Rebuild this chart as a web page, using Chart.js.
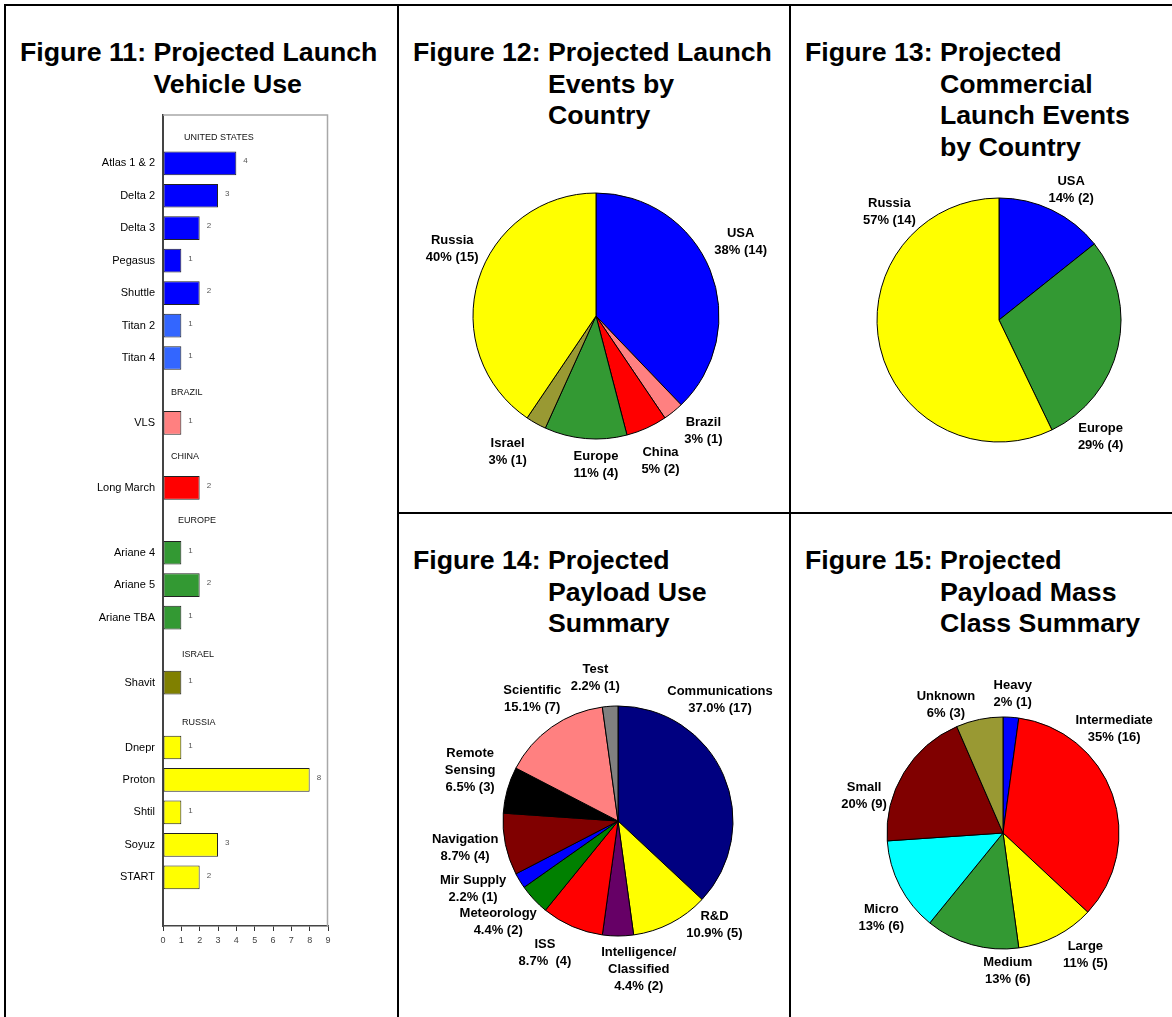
<!DOCTYPE html>
<html>
<head>
<meta charset="utf-8">
<script src="https://cdn.jsdelivr.net/npm/chart.js@4.4.0/dist/chart.umd.min.js"></script>
<style>
  body { margin: 0; background: #fff; font-family: "Liberation Sans", Arial, sans-serif; }
  #page { position: relative; width: 1172px; height: 1017px; overflow: hidden; background: #fff; }
  .line { position: absolute; background: #000; }
  .title { position: absolute; display: flex; font-weight: bold; font-size: 26.7px; line-height: 31.5px; color: #000; white-space: nowrap; }
  canvas { position: absolute; }
</style>
</head>
<body>
<div id="page">
  <div class="line" style="left:4px;top:4px;width:1168px;height:2px"></div>
  <div class="line" style="left:4px;top:4px;width:2px;height:1013px"></div>
  <div class="line" style="left:397px;top:4px;width:2px;height:1013px"></div>
  <div class="line" style="left:789px;top:4px;width:2px;height:1013px"></div>
  <div class="line" style="left:397px;top:512px;width:775px;height:2px"></div>

  <div class="title" style="left:20px;top:37px"><span>Figure 11:&nbsp;</span><span>Projected Launch<br>Vehicle Use</span></div>
  <div class="title" style="left:413px;top:37px"><span>Figure 12:&nbsp;</span><span>Projected Launch<br>Events by<br>Country</span></div>
  <div class="title" style="left:805px;top:37px"><span>Figure 13:&nbsp;</span><span>Projected<br>Commercial<br>Launch Events<br>by Country</span></div>
  <div class="title" style="left:413px;top:545px"><span>Figure 14:&nbsp;</span><span>Projected<br>Payload Use<br>Summary</span></div>
  <div class="title" style="left:805px;top:545px"><span>Figure 15:&nbsp;</span><span>Projected<br>Payload Mass<br>Class Summary</span></div>

  <canvas id="fig11" width="391" height="900" style="left:6px;top:100px"></canvas>
  <canvas id="fig12" width="390" height="382" style="left:399px;top:130px"></canvas>
  <canvas id="fig13" width="381" height="382" style="left:791px;top:130px"></canvas>
  <canvas id="fig14" width="390" height="377" style="left:399px;top:640px"></canvas>
  <canvas id="fig15" width="381" height="377" style="left:791px;top:640px"></canvas>
</div>
<script>
// Figure 11 - launch vehicles (blank names are the country header rows)
const vehicleNames = ['', 'Atlas 1 & 2', 'Delta 2', 'Delta 3', 'Pegasus', 'Shuttle', 'Titan 2', 'Titan 4',
  '', 'VLS', '', 'Long March', '', 'Ariane 4', 'Ariane 5', 'Ariane TBA', '', 'Shavit',
  '', 'Dnepr', 'Proton', 'Shtil', 'Soyuz', 'START', ''];
const vehicleCounts = [null, 4, 3, 2, 1, 2, 1, 1, null, 1, null, 2, null, 1, 2, 1, null, 1,
  null, 1, 8, 1, 3, 2, null];
const groupNames = ['UNITED STATES', 'BRAZIL', 'CHINA', 'EUROPE', 'ISRAEL', 'RUSSIA'];
const groupRows = [0, 8, 10, 12, 16, 18];

// Figure 12
const countryNames = ['USA', 'Brazil', 'China', 'Europe', 'Israel', 'Russia'];
const countryEvents = [14, 1, 2, 4, 1, 15];
const countryPct = ['38% (14)', '3% (1)', '5% (2)', '11% (4)', '3% (1)', '40% (15)'];

// Figure 13
const commNames = ['USA', 'Europe', 'Russia'];
const commEvents = [2, 4, 8];
const commPct = ['14% (2)', '29% (4)', '57% (14)'];

// Figure 14
const payloadNames = ['Communications', 'R&D', 'Intelligence/\nClassified', 'ISS', 'Meteorology',
  'Mir Supply', 'Navigation', 'Remote\nSensing', 'Scientific', 'Test'];
const payloadCounts = [17, 5, 2, 4, 2, 1, 4, 3, 7, 1];
const payloadPct = ['37.0% (17)', '10.9% (5)', '4.4% (2)', '8.7%  (4)', '4.4% (2)',
  '2.2% (1)', '8.7% (4)', '6.5% (3)', '15.1% (7)', '2.2% (1)'];

// Figure 15
const massNames = ['Heavy', 'Intermediate', 'Large', 'Medium', 'Micro', 'Small', 'Unknown'];
const massCounts = [1, 16, 5, 6, 6, 9, 3];
const massPct = ['2% (1)', '35% (16)', '11% (5)', '13% (6)', '13% (6)', '20% (9)', '6% (3)'];

const FONT = '"Liberation Sans", Arial, sans-serif';

// bar colours per row
const US = '#0000ff', TITAN = '#3366ff';
const vehicleColors = ['', US, US, US, US, US, TITAN, TITAN, '', '#ff8080', '', '#ff0000', '',
  '#339933', '#339933', '#339933', '', '#808000', '', '#ffff00', '#ffff00', '#ffff00', '#ffff00', '#ffff00', ''];

const barExtras = {
  id: 'barExtras',
  beforeDatasetsDraw(chart) {
    const a = chart.chartArea, ctx = chart.ctx;
    ctx.save();
    ctx.strokeStyle = '#a8a8a8';
    ctx.lineWidth = 1.5;
    ctx.beginPath();
    ctx.moveTo(a.left, a.top + 0.5);
    ctx.lineTo(a.right - 0.5, a.top + 0.5);
    ctx.lineTo(a.right - 0.5, a.bottom);
    ctx.stroke();
    ctx.restore();
  },
  afterDatasetsDraw(chart, args, opts) {
    const ctx = chart.ctx;
    const y = chart.scales.y;
    const a = chart.chartArea;
    ctx.save();
    ctx.textBaseline = 'middle';
    ctx.textAlign = 'left';
    // value labels
    ctx.font = '8px ' + FONT;
    ctx.fillStyle = '#555';
    chart.getDatasetMeta(0).data.forEach(function(bar, i) {
      if (vehicleCounts[i] == null) return;
      ctx.fillText(String(vehicleCounts[i]), bar.x + 7, bar.y - 2);
    });
    // country headers
    ctx.font = '9px ' + FONT;
    ctx.fillStyle = '#111';
    groupNames.forEach(function(g, i) {
      const n = opts.nudge[i];
      ctx.fillText(g, a.left + n[0], y.getPixelForValue(groupRows[i]) + n[1]);
    });
    ctx.restore();
  }
};

new Chart(document.getElementById('fig11'), {
  type: 'bar',
  data: {
    labels: vehicleNames,
    datasets: [{
      data: vehicleCounts,
      backgroundColor: vehicleColors,
      borderColor: '#222',
      borderWidth: 1,
      borderSkipped: false,
      barPercentage: 0.73,
      categoryPercentage: 1
    }]
  },
  options: {
    indexAxis: 'y',
    responsive: false,
    animation: false,
    layout: { padding: { left: 0, top: 7, right: 69, bottom: 50 } },
    plugins: {
      legend: { display: false },
      tooltip: { enabled: false },
      barExtras: { nudge: [[21, 7], [8, 2], [8, 1], [15, 0], [19, 4], [19, 7]] }
    },
    scales: {
      x: {
        min: 0,
        max: 9,
        ticks: { stepSize: 1, color: '#444', font: { size: 9, family: FONT }, padding: 4 },
        grid: { display: true, drawOnChartArea: false, drawTicks: true, tickLength: 5, color: '#333' },
        border: { display: true, color: '#444', width: 1.5 },
        afterFit: function(axis) { axis.height = 24; }
      },
      y: {
        ticks: { color: '#000', font: { size: 11, family: FONT }, padding: 8, autoSkip: false },
        grid: { display: false, drawTicks: false, tickLength: 0 },
        border: { display: true, color: '#444', width: 2 },
        afterFit: function(axis) { axis.width = 157; }
      }
    }
  },
  plugins: [barExtras]
});

const pieLabels = {
  id: 'pieLabels',
  afterDatasetsDraw(chart, args, opts) {
    const ctx = chart.ctx;
    const arcs = chart.getDatasetMeta(0).data;
    ctx.save();
    ctx.font = 'bold 13px ' + FONT;
    ctx.fillStyle = '#000';
    ctx.textAlign = 'center';
    ctx.textBaseline = 'middle';
    arcs.forEach(function(arc, i) {
      const p = opts.pos[i];
      const ang = p[0] * Math.PI / 180;
      const r = arc.outerRadius * p[1];
      const x = arc.x + Math.sin(ang) * r;
      const y = arc.y - Math.cos(ang) * r;
      const lines = opts.text[i];
      lines.forEach(function(t, j) {
        ctx.fillText(t, x, y + (j - (lines.length - 1) / 2) * 17);
      });
    });
    ctx.restore();
  }
};

function makePie(id, cx, cy, r, names, values, pct, colors, pos) {
  const el = document.getElementById(id);
  const bx = parseFloat(el.style.left), by = parseFloat(el.style.top);
  const rr = r + 0.5;
  const text = names.map(function(n, i) { return n.split('\n').concat([pct[i]]); });
  new Chart(el, {
    type: 'pie',
    data: {
      labels: names,
      datasets: [{ data: values, backgroundColor: colors, borderColor: '#000', borderWidth: 1 }]
    },
    options: {
      responsive: false,
      animation: false,
      layout: {
        padding: {
          left: cx - rr - bx,
          top: cy - rr - by,
          right: bx + el.width - cx - rr,
          bottom: by + el.height - cy - rr
        }
      },
      plugins: {
        legend: { display: false },
        tooltip: { enabled: false },
        pieLabels: { pos: pos, text: text }
      }
    },
    plugins: [pieLabels]
  });
}

makePie('fig12', 596, 316, 123, countryNames, countryEvents, countryPct,
  ['#0000ff', '#ff8080', '#ff0000', '#339933', '#999933', '#ffff00'],
  [[63, 1.32], [137, 1.28], [156, 1.29], [180, 1.21], [213, 1.32], [295, 1.29]]);

makePie('fig13', 999, 320, 122, commNames, commEvents, commPct,
  ['#0000ff', '#339933', '#ffff00'],
  [[29, 1.22], [139, 1.27], [314.5, 1.26]]);

makePie('fig14', 618, 821, 115, payloadNames, payloadCounts, payloadPct,
  ['#000080', '#ffff00', '#660066', '#ff0000', '#008000', '#0000ff', '#800000', '#000000', '#ff8080', '#808080'],
  [[40, 1.38], [137, 1.23], [172, 1.3], [209, 1.31], [230, 1.36], [245, 1.39], [260, 1.35], [289, 1.36], [325, 1.3], [351, 1.26]]);

makePie('fig15', 1003, 833, 116, massNames, massCounts, massPct,
  ['#0000ff', '#ff0000', '#ffff00', '#339933', '#00ffff', '#800000', '#999933'],
  [[4, 1.2], [47, 1.31], [146, 1.27], [178, 1.19], [235, 1.28], [285, 1.24], [336, 1.21]]);
</script>
</body>
</html>
